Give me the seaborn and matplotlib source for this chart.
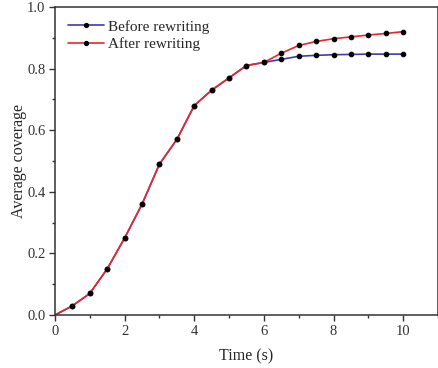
import matplotlib
matplotlib.use("Agg")
import matplotlib.pyplot as plt
import seaborn as sns
import pandas as pd
from matplotlib.ticker import MultipleLocator
from matplotlib.lines import Line2D

time = [0, 0.5, 1, 1.5, 2, 2.5, 3, 3.5, 4, 4.5, 5, 5.5, 6, 6.5, 7, 7.5, 8, 8.5, 9, 9.5, 10]
before = [0.0, 0.03, 0.07, 0.15, 0.25, 0.36, 0.49, 0.57, 0.68, 0.73, 0.77, 0.81, 0.82,
          0.83, 0.84, 0.843, 0.845, 0.846, 0.847, 0.847, 0.847]
after = [0.0, 0.03, 0.07, 0.15, 0.25, 0.36, 0.49, 0.57, 0.68, 0.73, 0.77, 0.81, 0.82,
         0.85, 0.875, 0.888, 0.897, 0.903, 0.909, 0.914, 0.92]
labels = ["Before rewriting", "After rewriting"]
colors = ["#3d3da8", "#e8272c"]

sns.set_style("ticks")
plt.rcParams['font.family'] = ['Liberation Serif', 'DejaVu Serif']

fig = plt.figure(figsize=(4.39, 3.68), dpi=100)
ax = fig.add_axes([0.1253, 0.144, 0.8724, 0.837])

for vals, lab, col in zip([before, after], labels, colors):
    df = pd.DataFrame({"t": time, "v": vals})
    sns.lineplot(data=df, x="t", y="v", ax=ax, color=col, lw=1.2,
                 marker="o", markersize=3.3, markerfacecolor="black", markeredgecolor="black",
                 markevery=list(range(1, len(time))), legend=False)

ax.set_xlim(0, 11)
ax.set_ylim(0, 1.0)
ax.xaxis.set_minor_locator(MultipleLocator(1))
ax.yaxis.set_minor_locator(MultipleLocator(0.1))
ax.set_xticks([0, 2, 4, 6, 8, 10])
ax.set_xticklabels(["0", "2", "4", "6", "8", "10"])
ax.set_yticks([0.0, 0.2, 0.4, 0.6, 0.8, 1.0])
ax.set_yticklabels(["0.0", "0.2", "0.4", "0.6", "0.8", "1.0"])
ax.tick_params(axis='both', which='major', direction='out', length=4, width=1, labelsize=10.5,
               colors='#333333', pad=3)
ax.tick_params(axis='both', which='minor', direction='out', length=2.5, width=1, colors='#333333')
for s in ax.spines.values():
    s.set_visible(True)
    s.set_linewidth(1.1)
    s.set_color('#333333')

ax.set_xlabel("Time (s)", fontsize=11.5, labelpad=8)
ax.set_ylabel("Average coverage", fontsize=11.5, labelpad=0)

handles = [Line2D([0], [0], color=c, lw=1.2, marker="o", markersize=2.8,
                  markerfacecolor="black", markeredgecolor="black") for c in colors]
ax.legend(handles, labels, loc="upper left", frameon=False, fontsize=11, handlelength=2.35,
          handletextpad=0.3, borderaxespad=0.5, labelspacing=0.25, numpoints=1,
          borderpad=0.35)

fig.savefig("out.png", dpi=100)
